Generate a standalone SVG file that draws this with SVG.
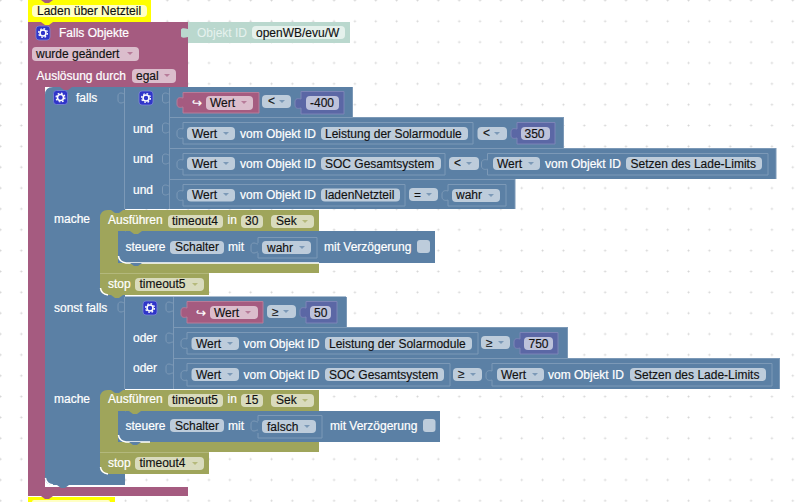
<svg xmlns="http://www.w3.org/2000/svg" width="804" height="502" viewBox="0 0 804 502">
<style>
text{font-family:"Liberation Sans",Arial,sans-serif;font-size:12px;white-space:pre}
.l{fill:#fff;stroke:#fff;stroke-width:.2}.d{fill:#111;stroke:#111;stroke-width:.15}
.bl{fill:#5b80a5}.bb{fill:#5b80a5;stroke:#7c99b7;stroke-width:1}
.pu{fill:#a55b80}.pb{fill:#a55b80;stroke:#b77c99;stroke-width:1}
.ol{fill:#9fa55b}
.nb{fill:#5b67a5;stroke:#7c85b7;stroke-width:1}
.pbl{fill:#bdccdb}.ppu{fill:#dbbdcc}.pol{fill:#d9dbbd}.pnu{fill:#bdc2db}
.seam{fill:none;stroke:#7c99b7;stroke-width:1}
.hl{fill:none;stroke:#fff;stroke-width:1.5}
</style>
<defs>
<pattern id="grid" patternUnits="userSpaceOnUse" x="-10" y="-10" width="20.85" height="20.85">
<path d="M9.500 10.500h2M10.500 9.500v2" stroke="#d4d4d4" stroke-width="1" fill="none"/>
</pattern>
<path id="tri" d="M0 0h6l-3 3z"/>
<path id="notch" d="M0 0l4 3h4l4-3z"/>
<path id="sock" d="M7 2c-2 0-2-1-4-1s-3 1-3 3v4c0 2 1 3 3 3s2-1 4-1" fill="none" stroke="#7c99b7"/>
<g id="gear">
<rect x="0" y="0" width="14" height="14" rx="3" fill="#2f35c9" stroke="#7c85d7" stroke-width=".8"/>
<circle cx="7" cy="7" r="3" fill="none" stroke="#fff" stroke-width="1.6"/>
<circle cx="7" cy="7" r="4.400" fill="none" stroke="#fff" stroke-width="1.300" stroke-dasharray="1.700 1.750"/>
</g>
</defs>

<rect width="804" height="502" fill="#fff"/>
<rect width="804" height="502" fill="url(#grid)"/>

<g id="comment-top">
<rect x="28" y="0" width="123" height="22" fill="#ff0"/>
<rect x="32" y="5" width="115" height="12" rx="4" fill="#ffffc4"/>
<use href="#notch" x="41" y="0" fill="#a55b80"/>
<text class="d" x="37" y="15">Laden über Netzteil</text>
</g>

<g id="trigger">
<path class="pu" d="M28 22H188V87H45V487H188V496H28Z"/>
<use href="#notch" x="41" y="22" fill="#ff0"/>
<use href="#gear" x="36" y="26"/>
<text class="l" x="59" y="37">Falls Objekte</text>
<rect class="ppu" x="32" y="47" width="107" height="14" rx="4"/>
<text class="d" x="36" y="58">wurde geändert</text>
<use href="#tri" x="127" y="52" fill="#b77c99"/>
<text class="l" x="36.500" y="80">Auslösung durch</text>
<rect class="ppu" x="132" y="69" width="44" height="14" rx="4"/>
<text class="d" x="136" y="80">egal</text>
<use href="#tri" x="164" y="74" fill="#b77c99"/>
</g>

<g id="object-id">
<path d="M181 30c0-2 3-2 7-1V22H350V43H188V37c-4 1-7 1-7-1Z" fill="#bad8ce"/>
<text x="197" y="37" fill="#e6f2ee">Objekt ID</text>
<rect x="252" y="26" width="93" height="13" rx="4" fill="#e5f1ec"/>
<text class="d" x="256" y="37">openWB/evu/W</text>
</g>

<g id="if-else">
<path class="bl" d="M53 87H352V117H563.500V148H776V179H515V209H125V296.500H346V327H568V358H780V389H125V485H53Q45 485 45 477V95Q45 87 53 87Z"/>
<path class="hl" d="M45.500 478Q46 484 53 485"/>
<use href="#notch" x="60" y="87" fill="#a55b80"/>
<use href="#notch" x="57" y="485" fill="#5b80a5"/>
<path class="seam" d="M124.500 88V209M169.500 88V209M169.500 117.500H563M169.500 148.500H776M169.500 179.500H515M124.500 297V389M173.500 297V389M173.500 327.500H568M173.500 358.500H780"/>
<path class="seam" d="M352.500 87V117M563.500 117V148M776 148V179M515 179V209M346.500 297V327M567.500 327V358M779.500 358V389"/>
<use href="#gear" x="53.500" y="90.500"/>
<text class="l" x="76" y="102">falls</text>
<use href="#sock" x="118" y="92"/>
<use href="#gear" x="139" y="91"/>
<use href="#sock" x="162.500" y="92"/>
<text class="l" x="133" y="133">und</text>
<use href="#sock" x="162.500" y="122"/>
<text class="l" x="133" y="163">und</text>
<use href="#sock" x="162.500" y="153"/>
<text class="l" x="133" y="194">und</text>
<use href="#sock" x="162.500" y="184"/>
<text class="l" x="54" y="223">mache</text>
<text class="l" x="54" y="312">sonst falls</text>
<use href="#sock" x="118" y="301"/>
<use href="#gear" x="143" y="301"/>
<use href="#sock" x="166" y="301"/>
<text class="l" x="133" y="342">oder</text>
<use href="#sock" x="166" y="332"/>
<text class="l" x="133" y="372">oder</text>
<use href="#sock" x="166" y="363"/>
<text class="l" x="54" y="403">mache</text>
</g>

<g id="cond-a1">
<path class="pb" d="M183 92.500H259V113H183V107c-4 1-6 0-6-3v-3c0-3 2-4 6-3Z"/>
<text class="l" x="192" y="107">↪</text>
<rect class="ppu" x="206" y="96" width="47" height="14" rx="4"/>
<text class="d" x="210" y="107">Wert</text>
<use href="#tri" x="241" y="101" fill="#b77c99"/>
<rect class="pbl" x="262" y="95" width="29" height="13" rx="4"/>
<text class="d" x="268" y="105">&lt;</text>
<use href="#tri" x="279" y="100" fill="#7c99b7"/>
<path class="nb" d="M301 91.500H344V114H301V108c-4 1-6 0-6-3v-3c0-3 2-4 6-3Z"/>
<rect class="pnu" x="306" y="96" width="33" height="14" rx="4"/>
<text class="d" x="310" y="107">-400</text>
</g>

<g id="cond-a2">
<path class="bb" d="M183 122.500H473V144H183V138c-3 1-6 0-6-3v-3c0-3 3-4 6-3Z"/>
<rect class="pbl" x="187" y="127" width="48" height="13" rx="4"/>
<text class="d" x="192" y="138">Wert</text>
<use href="#tri" x="223" y="132" fill="#7c99b7"/>
<text class="l" x="240" y="138">vom Objekt ID</text>
<rect class="pbl" x="321" y="127" width="147" height="13" rx="4"/>
<text class="d" x="325" y="138">Leistung der Solarmodule</text>
<rect class="pbl" x="477.500" y="127" width="29.500" height="13" rx="4"/>
<text class="d" x="483" y="137">&lt;</text>
<use href="#tri" x="494" y="132" fill="#7c99b7"/>
<path class="nb" d="M517 122.500H555V144H517V138c-4 1-6 0-6-3v-3c0-3 2-4 6-3Z"/>
<rect class="pnu" x="521" y="127" width="29" height="13" rx="4"/>
<text class="d" x="524.500" y="138">350</text>
</g>

<g id="cond-a3">
<path class="bb" d="M183 153.500H445V175H183V169c-3 1-6 0-6-3v-3c0-3 3-4 6-3Z"/>
<rect class="pbl" x="187" y="157" width="48" height="13" rx="4"/>
<text class="d" x="192" y="168">Wert</text>
<use href="#tri" x="223" y="162" fill="#7c99b7"/>
<text class="l" x="240" y="168">vom Objekt ID</text>
<rect class="pbl" x="321" y="157" width="120" height="13" rx="4"/>
<text class="d" x="325" y="168">SOC Gesamtsystem</text>
<rect class="pbl" x="449" y="157" width="30" height="13" rx="4"/>
<text class="d" x="454" y="167">&lt;</text>
<use href="#tri" x="466" y="162" fill="#7c99b7"/>
<path class="bb" d="M487.500 153.500H768V175H487.500V169c-3 1-6 0-6-3v-3c0-3 3-4 6-3Z"/>
<rect class="pbl" x="493" y="157" width="47" height="13" rx="4"/>
<text class="d" x="497" y="168">Wert</text>
<use href="#tri" x="528" y="162" fill="#7c99b7"/>
<text class="l" x="545" y="168">vom Objekt ID</text>
<rect class="pbl" x="626" y="157" width="136" height="13" rx="4"/>
<text class="d" x="630.500" y="168">Setzen des Lade-Limits</text>
</g>

<g id="cond-a4">
<path class="bb" d="M183 184.500H405V206H183V200c-3 1-6 0-6-3v-3c0-3 3-4 6-3Z"/>
<rect class="pbl" x="187" y="189" width="48" height="12.500" rx="4"/>
<text class="d" x="192" y="199">Wert</text>
<use href="#tri" x="223" y="193" fill="#7c99b7"/>
<text class="l" x="240" y="199">vom Objekt ID</text>
<rect class="pbl" x="321" y="188.500" width="79" height="13" rx="4"/>
<text class="d" x="325" y="199">ladenNetzteil</text>
<rect class="pbl" x="409" y="188" width="29" height="13" rx="4"/>
<text class="d" x="414" y="199">=</text>
<use href="#tri" x="426" y="193" fill="#7c99b7"/>
<path class="bb" d="M448 184.500H506V206H448V200c-3 1-6 0-6-3v-3c0-3 3-4 6-3Z"/>
<rect class="pbl" x="452" y="189" width="48" height="13" rx="4"/>
<text class="d" x="456" y="199">wahr</text>
<use href="#tri" x="488" y="194" fill="#7c99b7"/>
</g>

<g id="timeout-a">
<path class="ol" d="M108 210H319V231H118V263H319V273H209V295H108Q100 295 100 287V218Q100 210 108 210Z"/>
<path class="hl" d="M100.500 288Q101 294 108 295"/>
<use href="#notch" x="111" y="210" fill="#5b80a5"/>
<use href="#notch" x="111" y="295" fill="#9fa55b"/>
<path d="M100 273.500H209" stroke="#b3b87c" fill="none"/>
<text class="l" x="108" y="224">Ausführen</text>
<rect class="pol" x="168" y="215" width="55" height="13" rx="4"/>
<text class="d" x="172" y="225">timeout4</text>
<text class="l" x="227.500" y="224">in</text>
<rect class="pol" x="241" y="215" width="22" height="13" rx="4"/>
<text class="d" x="245" y="225">30</text>
<rect class="pol" x="271" y="215" width="43" height="13" rx="4"/>
<text class="d" x="276" y="225">Sek</text>
<use href="#tri" x="302" y="220" fill="#b5b97c"/>
<text class="l" x="108" y="288">stop</text>
<rect class="pol" x="135" y="278" width="69" height="13" rx="4"/>
<text class="d" x="139.500" y="288">timeout5</text>
<use href="#tri" x="192" y="283" fill="#b5b97c"/>
</g>

<g id="switch-a">
<path class="bl" d="M126 231H435V263H126Q118 263 118 255V239Q118 231 126 231Z"/>
<path class="hl" d="M118.500 256Q119 262 126 263H319"/>
<use href="#notch" x="130" y="231" fill="#9fa55b"/>
<use href="#notch" x="130" y="263" fill="#5b80a5"/>
<text class="l" x="125.500" y="251">steuere</text>
<rect class="pbl" x="170" y="241" width="54" height="13" rx="4"/>
<text class="d" x="175" y="251">Schalter</text>
<text class="l" x="228" y="251">mit</text>
<use href="#sock" x="251" y="242"/>
<path class="bb" d="M258 237.500H317V258H258V253M258 243V237.500"/>
<rect class="pbl" x="262" y="241" width="49" height="13" rx="4"/>
<text class="d" x="267" y="252">wahr</text>
<use href="#tri" x="299" y="246" fill="#7c99b7"/>
<text class="l" x="324" y="251">mit Verzögerung</text>
<rect class="pbl" x="417" y="240" width="13" height="13" rx="3"/>
</g>

<g id="cond-b1">
<path class="pb" d="M187 301.500H263V323H187V317c-4 1-6 0-6-3v-3c0-3 2-4 6-3Z"/>
<text class="l" x="196" y="317">↪</text>
<rect class="ppu" x="210" y="306" width="48" height="13" rx="4"/>
<text class="d" x="214" y="317">Wert</text>
<use href="#tri" x="245" y="311" fill="#b77c99"/>
<rect class="pbl" x="267" y="305" width="29" height="13" rx="4"/>
<text class="d" x="272" y="316">≥</text>
<use href="#tri" x="283" y="310" fill="#7c99b7"/>
<path class="nb" d="M306 301.500H337V323H306V317c-4 1-6 0-6-3v-3c0-3 2-4 6-3Z"/>
<rect class="pnu" x="310" y="306" width="21" height="13" rx="4"/>
<text class="d" x="314" y="317">50</text>
</g>

<g id="cond-b2">
<path class="bb" d="M187 332.500H478V354H187V348c-3 1-6 0-6-3v-3c0-3 3-4 6-3Z"/>
<rect class="pbl" x="191.500" y="337" width="47.500" height="13" rx="4"/>
<text class="d" x="196" y="348">Wert</text>
<use href="#tri" x="227" y="342" fill="#7c99b7"/>
<text class="l" x="243.500" y="348">vom Objekt ID</text>
<rect class="pbl" x="325" y="337" width="147" height="13" rx="4"/>
<text class="d" x="329" y="348">Leistung der Solarmodule</text>
<rect class="pbl" x="481" y="336" width="29" height="13" rx="4"/>
<text class="d" x="486" y="347">≥</text>
<use href="#tri" x="498" y="341" fill="#7c99b7"/>
<path class="nb" d="M520 332.500H558V354H520V348c-4 1-6 0-6-3v-3c0-3 2-4 6-3Z"/>
<rect class="pnu" x="524" y="337" width="29" height="13" rx="4"/>
<text class="d" x="528.500" y="348">750</text>
</g>

<g id="cond-b3">
<path class="bb" d="M187 363.500H450V386H187V380c-3 1-6 0-6-3v-3c0-3 3-4 6-3Z"/>
<rect class="pbl" x="191.500" y="368" width="47.500" height="13" rx="4"/>
<text class="d" x="196" y="379">Wert</text>
<use href="#tri" x="227" y="373" fill="#7c99b7"/>
<text class="l" x="243.500" y="379">vom Objekt ID</text>
<rect class="pbl" x="325" y="368" width="119" height="13" rx="4"/>
<text class="d" x="329" y="379">SOC Gesamtsystem</text>
<rect class="pbl" x="453" y="368" width="29" height="13" rx="4"/>
<text class="d" x="458" y="378">≥</text>
<use href="#tri" x="470" y="373" fill="#7c99b7"/>
<path class="bb" d="M492 363.500H772V386H492V380c-3 1-6 0-6-3v-3c0-3 3-4 6-3Z"/>
<rect class="pbl" x="497" y="368" width="47" height="13" rx="4"/>
<text class="d" x="501" y="379">Wert</text>
<use href="#tri" x="532" y="373" fill="#7c99b7"/>
<text class="l" x="548" y="379">vom Objekt ID</text>
<rect class="pbl" x="630" y="368" width="136" height="13" rx="4"/>
<text class="d" x="634" y="379">Setzen des Lade-Limits</text>
</g>

<g id="timeout-b">
<path class="ol" d="M108 390H319V411H118V442H319V452H209V474H108Q100 474 100 466V398Q100 390 108 390Z"/>
<path class="hl" d="M100.500 467Q101 473 108 474"/>
<use href="#notch" x="111" y="390" fill="#5b80a5"/>
<path d="M100 452.500H209" stroke="#b3b87c" fill="none"/>
<text class="l" x="108" y="403">Ausführen</text>
<rect class="pol" x="168" y="394" width="55" height="13" rx="4"/>
<text class="d" x="172" y="404">timeout5</text>
<text class="l" x="227.500" y="403">in</text>
<rect class="pol" x="241" y="394" width="22" height="13" rx="4"/>
<text class="d" x="245" y="404">15</text>
<rect class="pol" x="271" y="394" width="43" height="13" rx="4"/>
<text class="d" x="276" y="404">Sek</text>
<use href="#tri" x="302" y="399" fill="#b5b97c"/>
<text class="l" x="108" y="467">stop</text>
<rect class="pol" x="135" y="457" width="69" height="13" rx="4"/>
<text class="d" x="139.500" y="467">timeout4</text>
<use href="#tri" x="192" y="462" fill="#b5b97c"/>
</g>

<g id="switch-b">
<path class="bl" d="M126 411H440V442H126Q118 442 118 434V419Q118 411 126 411Z"/>
<path class="hl" d="M118.500 435Q119 441 126 442H150"/>
<use href="#notch" x="129" y="411" fill="#9fa55b"/>
<use href="#notch" x="129" y="442" fill="#5b80a5"/>
<text class="l" x="125.500" y="430">steuere</text>
<rect class="pbl" x="170" y="419" width="54" height="13" rx="4"/>
<text class="d" x="175" y="430">Schalter</text>
<text class="l" x="228" y="430">mit</text>
<use href="#sock" x="251" y="420"/>
<path class="bb" d="M258 415.500H322V438H258V433M258 421V415.500"/>
<rect class="pbl" x="262" y="420" width="54" height="13" rx="4"/>
<text class="d" x="267" y="431">falsch</text>
<use href="#tri" x="304" y="425" fill="#7c99b7"/>
<text class="l" x="330" y="430">mit Verzögerung</text>
<rect class="pbl" x="423" y="419" width="12.500" height="13" rx="3"/>
</g>

<g id="comment-bottom">
<rect x="28" y="497" width="87" height="5" fill="#ff0"/>
<rect x="32" y="500" width="78" height="4" rx="2" fill="#ffffc4"/>
<use href="#notch" x="41" y="496" fill="#a55b80"/>
</g>
</svg>
